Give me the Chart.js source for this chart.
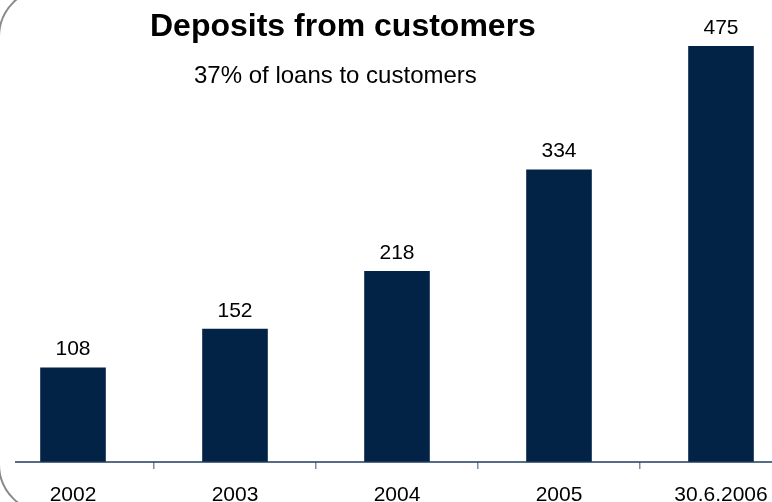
<!DOCTYPE html>
<html>
<head>
<meta charset="utf-8">
<script src="https://cdn.jsdelivr.net/npm/chart.js@4.4.1/dist/chart.umd.min.js"></script>
<style>
  html, body { margin: 0; padding: 0; background: #fff; overflow: hidden; }
  #page { width: 772px; height: 502px; overflow: hidden; position: relative; font-family: "Liberation Sans", Arial, sans-serif; }
  #frame { position: absolute; left: -2px; top: -13px; width: 1600px; height: 527px; border: 2px solid #8a8a8a; border-radius: 50px; box-sizing: border-box; }
  #wrap { position: absolute; left: -8px; top: 0; width: 810px; height: 502px; }
  .title { position: absolute; left: 150px; top: 9px; font-size: 32px; font-weight: bold; line-height: 1; color: #000; white-space: nowrap; }
  .subtitle { position: absolute; left: 194px; top: 63px; font-size: 24px; line-height: 1; color: #000; white-space: nowrap; }
</style>
</head>
<body>
<div id="page">
  <div id="frame"></div>
  <div id="wrap"><canvas id="depositsChart"></canvas></div>
  <div class="title">Deposits from customers</div>
  <div class="subtitle">37% of loans to customers</div>
</div>
<script>
// ---------------- Data ----------------
const PERIODS = ["2002", "2003", "2004", "2005", "30.6.2006"];
const DEPOSITS = [108, 152, 218, 334, 475];
const Y_MAX = 500;

const BAR_COLOR = "#022246";
const AXIS_COLOR = "#1f3d5e";
const TICK_COLOR = "#7a8ea5";
const FONT = "'Liberation Sans', Arial, sans-serif";

// values written above each bar
const valueLabels = {
  id: "valueLabels",
  afterDatasetsDraw(chart) {
    const ctx = chart.ctx;
    const meta = chart.getDatasetMeta(0);
    ctx.save();
    ctx.font = "21px " + FONT;
    ctx.fillStyle = "#000";
    ctx.textAlign = "center";
    ctx.textBaseline = "alphabetic";
    meta.data.forEach((bar, i) => {
      ctx.fillText(String(DEPOSITS[i]), bar.x, bar.y - 12);
    });
    ctx.restore();
  }
};

// baseline starts a little inside the rounded frame
const baseLine = {
  id: "baseLine",
  afterDraw(chart) {
    const { ctx, chartArea } = chart;
    ctx.save();
    ctx.strokeStyle = AXIS_COLOR;
    ctx.lineWidth = 1.5;
    ctx.beginPath();
    ctx.moveTo(chartArea.left + 23, chartArea.bottom);
    ctx.lineTo(chartArea.right, chartArea.bottom);
    ctx.stroke();
    ctx.restore();
  }
};

new Chart(document.getElementById("depositsChart"), {
  type: "bar",
  data: {
    labels: PERIODS,
    datasets: [{
      data: DEPOSITS,
      backgroundColor: BAR_COLOR,
      borderWidth: 0,
      barPercentage: 1,
      categoryPercentage: 0.405
    }]
  },
  options: {
    responsive: true,
    maintainAspectRatio: false,
    animation: false,
    layout: { padding: { top: 24, left: 0, right: 0, bottom: 0 } },
    plugins: {
      legend: { display: false },
      tooltip: { enabled: false },
      title: { display: false }
    },
    scales: {
      x: {
        offset: true,
        border: { display: false },
        grid: {
          offset: true,
          drawOnChartArea: false,
          drawTicks: true,
          tickLength: 7,
          color: TICK_COLOR,
          lineWidth: 1.5
        },
        ticks: {
          color: "#000",
          font: { family: FONT, size: 21 },
          padding: 14,
          maxRotation: 0,
          autoSkip: false
        },
        afterFit(scale) { scale.height = 40; }
      },
      y: {
        display: false,
        min: 0,
        max: Y_MAX
      }
    }
  },
  plugins: [valueLabels, baseLine]
});
</script>
</body>
</html>
